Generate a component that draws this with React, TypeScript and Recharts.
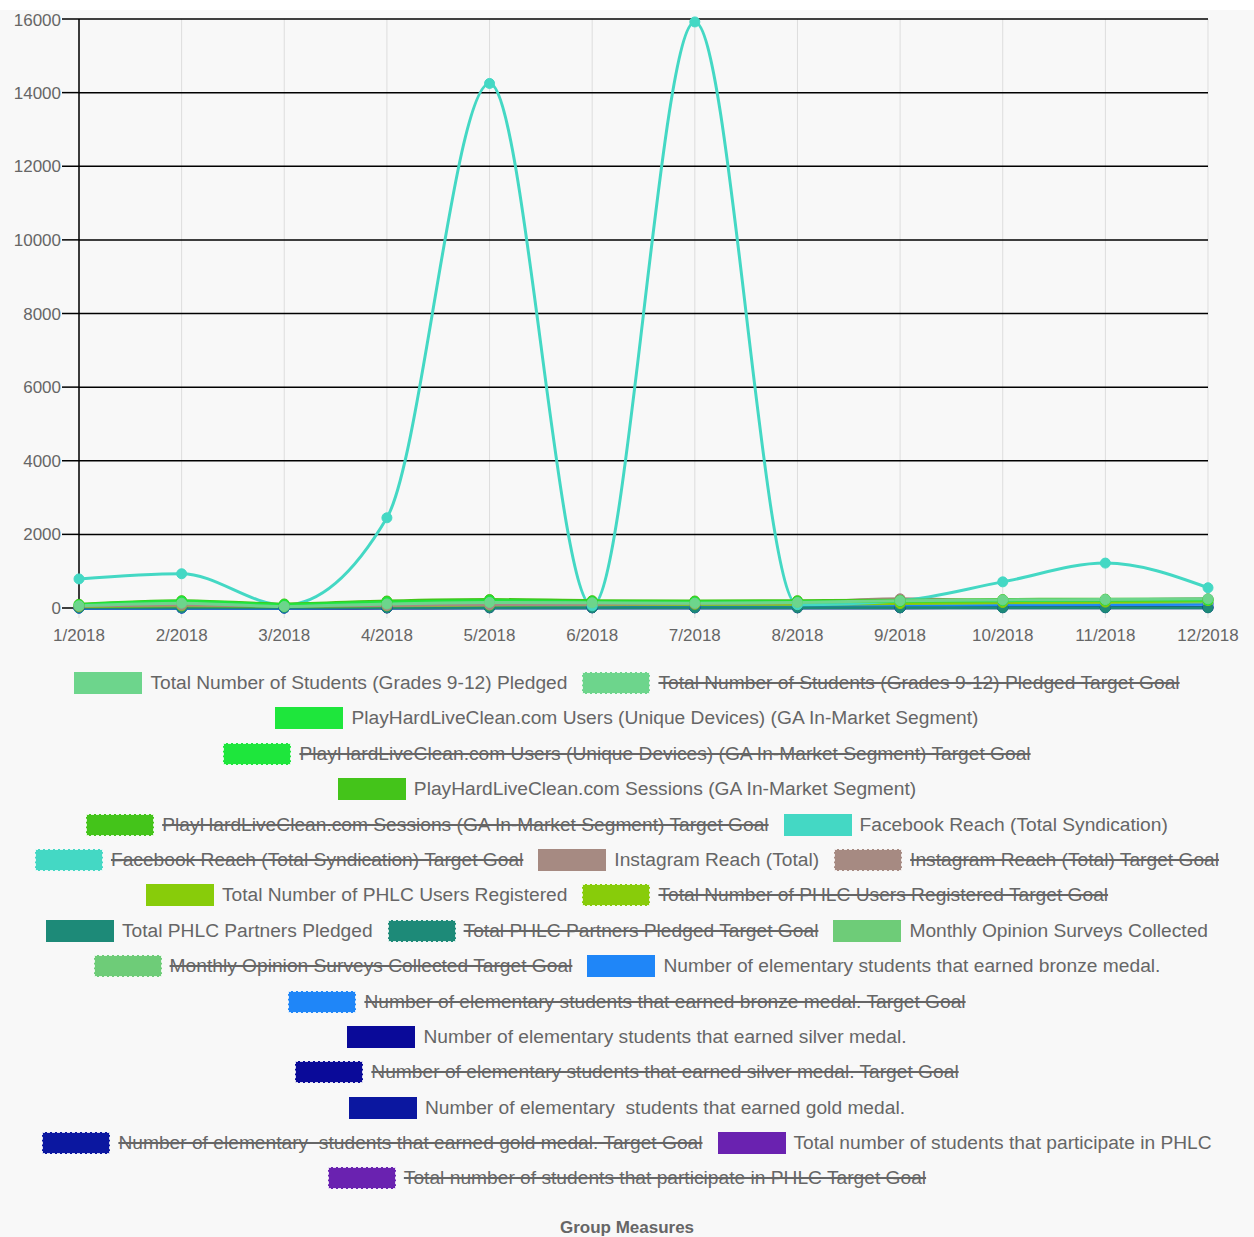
import React from 'react';
import { LineChart, Line, XAxis, YAxis, CartesianGrid } from 'recharts';

const months = ['1/2018', '2/2018', '3/2018', '4/2018', '5/2018', '6/2018', '7/2018', '8/2018', '9/2018', '10/2018', '11/2018', '12/2018'];
const yTicks = [0, 2000, 4000, 6000, 8000, 10000, 12000, 14000, 16000];

const studentsPledged = [60, 130, 40, 110, 150, 140, 130, 150, 200, 220, 230, 250];
const phlcUsers = [80, 180, 90, 160, 200, 170, 160, 170, 180, 200, 210, 220];
const phlcSessions = [100, 200, 110, 190, 230, 200, 190, 200, 210, 230, 240, 240];
const facebookReach = [790, 930, 80, 2450, 14250, 60, 15920, 90, 200, 710, 1220, 550];
const instagramReach = [50, 80, 60, 70, 90, 100, 120, 150, 250, 200, 220, 250];
const usersRegistered = [40, 60, 50, 60, 80, 90, 100, 100, 120, 150, 160, 200];
const partnersPledged = [5, 5, 5, 5, 5, 5, 5, 5, 5, 5, 5, 5];
const opinionSurveys = [30, 60, 40, 80, 100, 90, 100, 110, 120, 140, 150, 160];
const bronzeMedal = [0, 0, 0, 20, 40, 30, 30, 40, 50, 80, 90, 100];
const silverMedal = [0, 0, 0, 5, 10, 10, 10, 10, 10, 20, 20, 20];
const goldMedal = [0, 0, 0, 2, 5, 5, 5, 5, 5, 10, 10, 10];
const participants = [10, 20, 20, 30, 50, 50, 60, 60, 80, 100, 110, 120];

type Series = { key: string; name: string; color: string; values?: number[]; hidden?: boolean };

const series: Series[] = [
  { key: 's1', name: 'Total Number of Students (Grades 9-12) Pledged', color: '#6dd58c', values: studentsPledged },
  { key: 's1t', name: 'Total Number of Students (Grades 9-12) Pledged Target Goal', color: '#6dd58c', hidden: true },
  { key: 's2', name: 'PlayHardLiveClean.com Users (Unique Devices) (GA In-Market Segment)', color: '#1ee63c', values: phlcUsers },
  { key: 's2t', name: 'PlayHardLiveClean.com Users (Unique Devices) (GA In-Market Segment) Target Goal', color: '#1ee63c', hidden: true },
  { key: 's3', name: 'PlayHardLiveClean.com Sessions (GA In-Market Segment)', color: '#44c41a', values: phlcSessions },
  { key: 's3t', name: 'PlayHardLiveClean.com Sessions (GA In-Market Segment) Target Goal', color: '#44c41a', hidden: true },
  { key: 's4', name: 'Facebook Reach (Total Syndication)', color: '#44d8c4', values: facebookReach },
  { key: 's4t', name: 'Facebook Reach (Total Syndication) Target Goal', color: '#44d8c4', hidden: true },
  { key: 's5', name: 'Instagram Reach (Total)', color: '#a68a82', values: instagramReach },
  { key: 's5t', name: 'Instagram Reach (Total) Target Goal', color: '#a68a82', hidden: true },
  { key: 's6', name: 'Total Number of PHLC Users Registered', color: '#88cc0a', values: usersRegistered },
  { key: 's6t', name: 'Total Number of PHLC Users Registered Target Goal', color: '#88cc0a', hidden: true },
  { key: 's7', name: 'Total PHLC Partners Pledged', color: '#1d8a78', values: partnersPledged },
  { key: 's7t', name: 'Total PHLC Partners Pledged Target Goal', color: '#1d8a78', hidden: true },
  { key: 's8', name: 'Monthly Opinion Surveys Collected', color: '#6ecc78', values: opinionSurveys },
  { key: 's8t', name: 'Monthly Opinion Surveys Collected Target Goal', color: '#6ecc78', hidden: true },
  { key: 's9', name: 'Number of elementary students that earned bronze medal.', color: '#1f86f8', values: bronzeMedal },
  { key: 's9t', name: 'Number of elementary students that earned bronze medal. Target Goal', color: '#1f86f8', hidden: true },
  { key: 's10', name: 'Number of elementary students that earned silver medal.', color: '#0a0a99', values: silverMedal },
  { key: 's10t', name: 'Number of elementary students that earned silver medal. Target Goal', color: '#0a0a99', hidden: true },
  { key: 's11', name: 'Number of elementary\u00a0 students that earned gold medal.', color: '#0b17a0', values: goldMedal },
  { key: 's11t', name: 'Number of elementary\u00a0 students that earned gold medal. Target Goal', color: '#0b17a0', hidden: true },
  { key: 's12', name: 'Total number of students that participate in PHLC', color: '#6a22b0', values: participants },
  { key: 's12t', name: 'Total number of students that participate in PHLC Target Goal', color: '#6a22b0', hidden: true },
];

const data = months.map((m, i) => {
  const row: Record<string, any> = { month: m };
  series.forEach((s) => {
    if (s.values) row[s.key] = s.values[i];
  });
  return row;
});

const FONT = '"Liberation Sans", Arial, Helvetica, sans-serif';

function LegendBlock() {
  return (
    <div
      style={{
        width: 1200,
        margin: '0 auto',
        paddingTop: 24,
        display: 'flex',
        flexWrap: 'wrap',
        justifyContent: 'center',
        rowGap: 13.4,
        columnGap: 15,
        fontSize: 19.2,
        color: '#666',
        lineHeight: '22px',
      }}
    >
      {series.map((s) => (
        <div key={s.key} style={{ display: 'flex', alignItems: 'center', whiteSpace: 'nowrap' }}>
          <span
            style={{
              display: 'inline-block',
              width: 68,
              height: 22,
              boxSizing: 'border-box',
              background: s.color,
              border: s.hidden ? '1.5px dashed rgba(255,255,255,0.85)' : `1px solid ${s.color}`,
              marginRight: 8,
            }}
          />
          <span style={{ textDecoration: s.hidden ? 'line-through' : 'none', textDecorationThickness: 2 }}>{s.name}</span>
        </div>
      ))}
    </div>
  );
}

export default function App() {
  const visible = series.filter((s) => !s.hidden).slice().reverse();
  return (
    <div style={{ width: 1254, height: 1237, background: '#f8f8f8', fontFamily: FONT, position: 'relative', overflow: 'hidden' }}>
      <style>{'body{margin:0}'}</style>
      <div style={{ height: 10, background: '#ffffff' }} />
      <LineChart width={1254} height={638} data={data} margin={{ top: 9, right: 46, left: 0, bottom: 0 }}>
        <CartesianGrid horizontal={false} stroke="#dddddd" strokeWidth={1} />
        <CartesianGrid vertical={false} stroke="#000000" strokeWidth={1.5} />
        <XAxis
          dataKey="month"
          axisLine={false}
          tickLine={{ stroke: '#dddddd' }}
          tickSize={10}
          tickMargin={11}
          height={40}
          interval={0}
          tick={{ fill: '#666', fontSize: 17, fontFamily: FONT }}
        />
        <YAxis
          domain={[0, 16000]}
          ticks={yTicks}
          width={79}
          axisLine={{ stroke: '#000', strokeWidth: 1.5 }}
          tickLine={{ stroke: '#000', strokeWidth: 1.5 }}
          tickSize={17}
          tickMargin={1}
          tick={{ fill: '#666', fontSize: 17, fontFamily: FONT }}
        />
        {visible.map((s) => (
          <Line
            key={s.key}
            type="monotone"
            dataKey={s.key}
            name={s.name}
            stroke={s.color}
            strokeWidth={3}
            dot={{ r: 5, fill: s.color, stroke: s.color, strokeWidth: 1 }}
            isAnimationActive={false}
          />
        ))}
      </LineChart>
      <LegendBlock />
      <div
        style={{
          position: 'absolute',
          top: 1218,
          left: 0,
          width: 1254,
          textAlign: 'center',
          fontSize: 17,
          fontWeight: 'bold',
          color: '#666',
        }}
      >
        Group Measures
      </div>
    </div>
  );
}
